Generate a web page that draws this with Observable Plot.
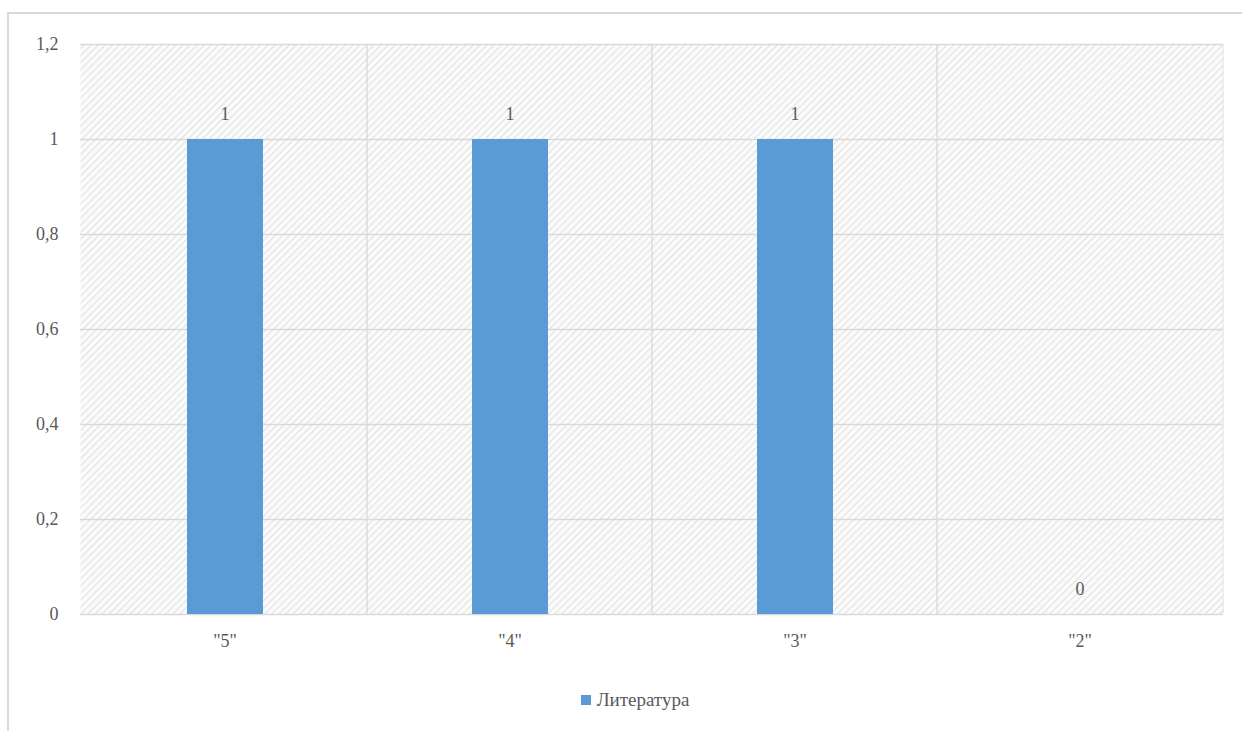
<!DOCTYPE html>
<html><head><meta charset="utf-8">
<script src="https://cdn.jsdelivr.net/npm/d3@7"></script>
<script src="https://cdn.jsdelivr.net/npm/@observablehq/plot@0.6"></script>
<style>
@font-face{font-family:"ChartSerif";src:local("Liberation Serif"),local("LiberationSerif");}
body{margin:0;background:#fff;}
#wrap{position:relative;width:1242px;height:731px;overflow:hidden;}
#frame{position:absolute;left:7px;top:12px;width:1400px;height:900px;border-left:2px solid #d9d9d9;border-top:2px solid #d9d9d9;}
#chart{position:absolute;left:0;top:0;}
#legend{position:absolute;left:0;top:689px;width:1270px;text-align:center;font-size:19px;color:#595959;}
#legend .sw{display:inline-block;width:10px;height:10px;background:#5b9bd5;margin-right:6px;vertical-align:1px;}
</style></head>
<body><div id="wrap"><div id="frame"></div><div id="chart"></div><div id="legend" style="font-family:'Liberation Serif',ChartSerif !important"></div></div>
<script>
const categories = ['"5"', '"4"', '"3"', '"2"'];
const values = [1, 1, 1, 0];
const seriesName = "Литература";
const yTicks = [0, 0.2, 0.4, 0.6, 0.8, 1, 1.2];

const data = categories.map((c, i) => ({cat: c, v: values[i]}));
const fmt = d => String(d).replace(".", ",");
const color = "#5b9bd5";
const textColor = "#595959";
const serif = "'Liberation Serif', ChartSerif, serif";

const plot = Plot.plot({
  width: 1242,
  height: 680,
  marginLeft: 80,
  marginRight: 19,
  marginTop: 44,
  marginBottom: 66,
  style: {fontSize: "18px", color: textColor, background: "transparent", fontFamily: serif},
  x: {domain: categories, padding: 0, label: null},
  y: {domain: [0, 1.2], label: null},
  marks: [
    Plot.frame({fill: "url(#hatch)", stroke: null}),
    Plot.gridY(yTicks, {stroke: "#d9d9d9", strokeOpacity: 1, strokeWidth: 1.3}),
    Plot.ruleX(categories.slice(1), {x: d => d, dx: -143, stroke: "#d9d9d9", strokeWidth: 1.3}),
    Plot.ruleX([categories[3]], {dx: 143, stroke: "#e3e3e3", strokeWidth: 1}),
    Plot.barY(data, {x: "cat", y: "v", fill: color, insetLeft: 105, insetRight: 104}),
    Plot.text(data, {x: "cat", y: "v", text: d => fmt(d.v), dy: -25, fill: textColor, fontSize: 18, fontFamily: serif}),
    Plot.axisY(yTicks, {tickSize: 0, tickPadding: 22, tickFormat: fmt, fontSize: 18, fill: textColor, fontFamily: serif}),
    Plot.axisX({tickSize: 0, tickPadding: 20, fontSize: 18, fill: textColor, fontFamily: serif})
  ]
});

const svg = d3.select(plot);
svg.selectAll("text").style("font-family", serif, "important");
const defs = svg.insert("defs", ":first-child");
const pat = defs.append("pattern").attr("id", "hatch").attr("patternUnits", "userSpaceOnUse")
  .attr("width", 5).attr("height", 5).attr("patternTransform", "rotate(45)");
pat.append("rect").attr("width", 5).attr("height", 5).attr("fill", "#fbfbfb");
pat.append("line").attr("x1", 0).attr("y1", 0).attr("x2", 0).attr("y2", 5)
  .attr("stroke", "#e0e0e0").attr("stroke-width", 2.2);

document.getElementById("chart").appendChild(plot);
document.getElementById("legend").innerHTML = '<span class="sw"></span>' + seriesName;
</script>
</body></html>
